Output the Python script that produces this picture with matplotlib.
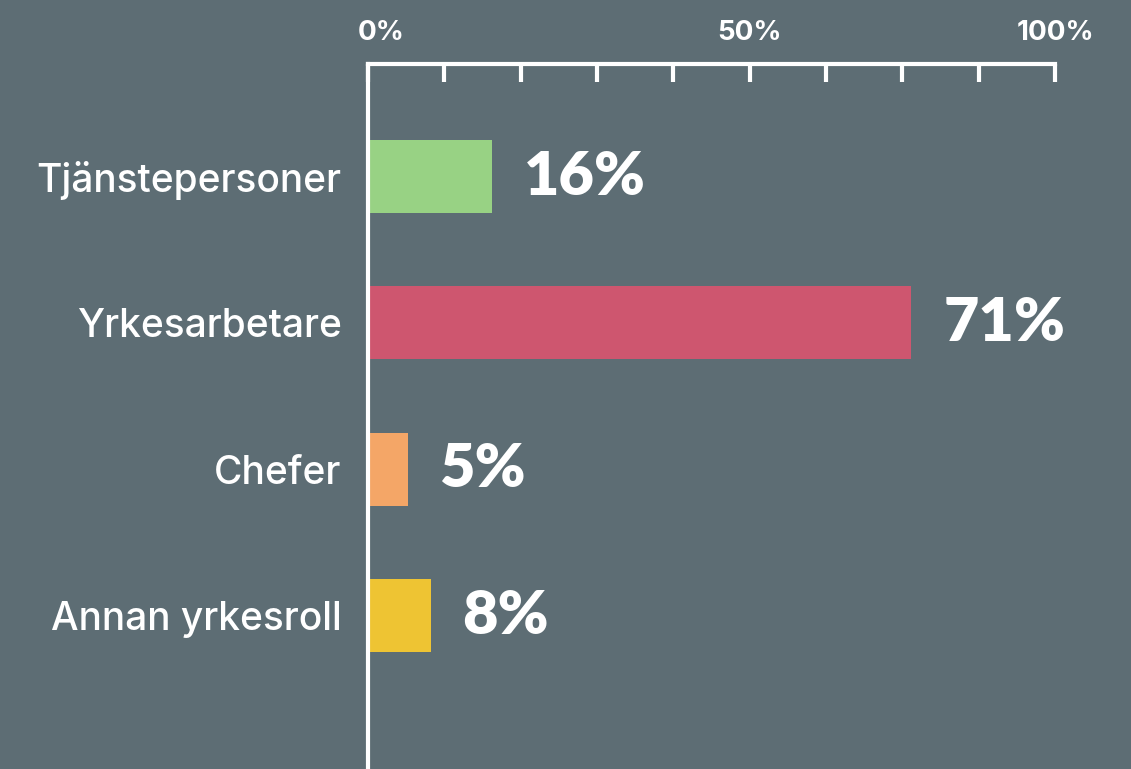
import numpy as np
import matplotlib.pyplot as plt
from matplotlib.transforms import ScaledTranslation

# data
categories = ['Tjänstepersoner', 'Yrkesarbetare', 'Chefer', 'Annan yrkesroll']
values = [16, 71, 5, 8]
bar_colors = ['#98d284', '#ce566f', '#f4a667', '#eec433']
tick_pos = [0, 10, 20, 30, 40, 50, 60, 70, 80, 90]
# the source graphic labels its last tick (90) as "100%"
tick_labels = ['0%', '', '', '', '', '50%', '', '', '', '100%']

bg = '#5d6d74'
plt.rcParams['font.family'] = ['Lato', 'DejaVu Sans']

fig = plt.figure(figsize=(11.31, 7.69), dpi=100, facecolor=bg)
ax = fig.add_axes([368/1131, 0, 687/1131, 1 - 64/769])
ax.set_facecolor(bg)

y = np.arange(len(categories))
ax.barh(y, values, height=0.5, color=bar_colors, left=0.2)

for yi, v in zip(y, values):
    ax.annotate(f'{v}%', xy=(v, yi), xytext=(24, 0), textcoords='offset points',
                ha='left', va='center', color='white', fontsize=44,
                fontweight='heavy')

ax.set_xlim(0, tick_pos[-1])
ax.set_ylim(4.049, -0.769)

ax.set_xticks(tick_pos)
ax.set_xticklabels(tick_labels)
ax.xaxis.tick_top()
ax.tick_params(axis='x', direction='in', length=13, width=3, color='white',
               labelcolor='white', labelsize=20, pad=13)
for lab in ax.get_xticklabels():
    lab.set_fontweight('bold')
    lab.set_family(['Inter', 'DejaVu Sans'])
# first label sits a bit right of its tick in the original
first = ax.get_xticklabels()[0]
first.set_transform(first.get_transform() + ScaledTranslation(13/100, 0, fig.dpi_scale_trans))

ax.set_yticks(y)
ax.set_yticklabels(categories)
ax.tick_params(axis='y', length=0, pad=19, labelcolor='white', labelsize=28)
for lab in ax.get_yticklabels():
    lab.set_fontweight('medium')
    lab.set_family(['Inter', 'DejaVu Sans'])

for side in ['right', 'bottom']:
    ax.spines[side].set_visible(False)
for side in ['top', 'left']:
    ax.spines[side].set_color('white')
    ax.spines[side].set_linewidth(3)

plt.savefig('out.png', dpi=100, facecolor=bg)
